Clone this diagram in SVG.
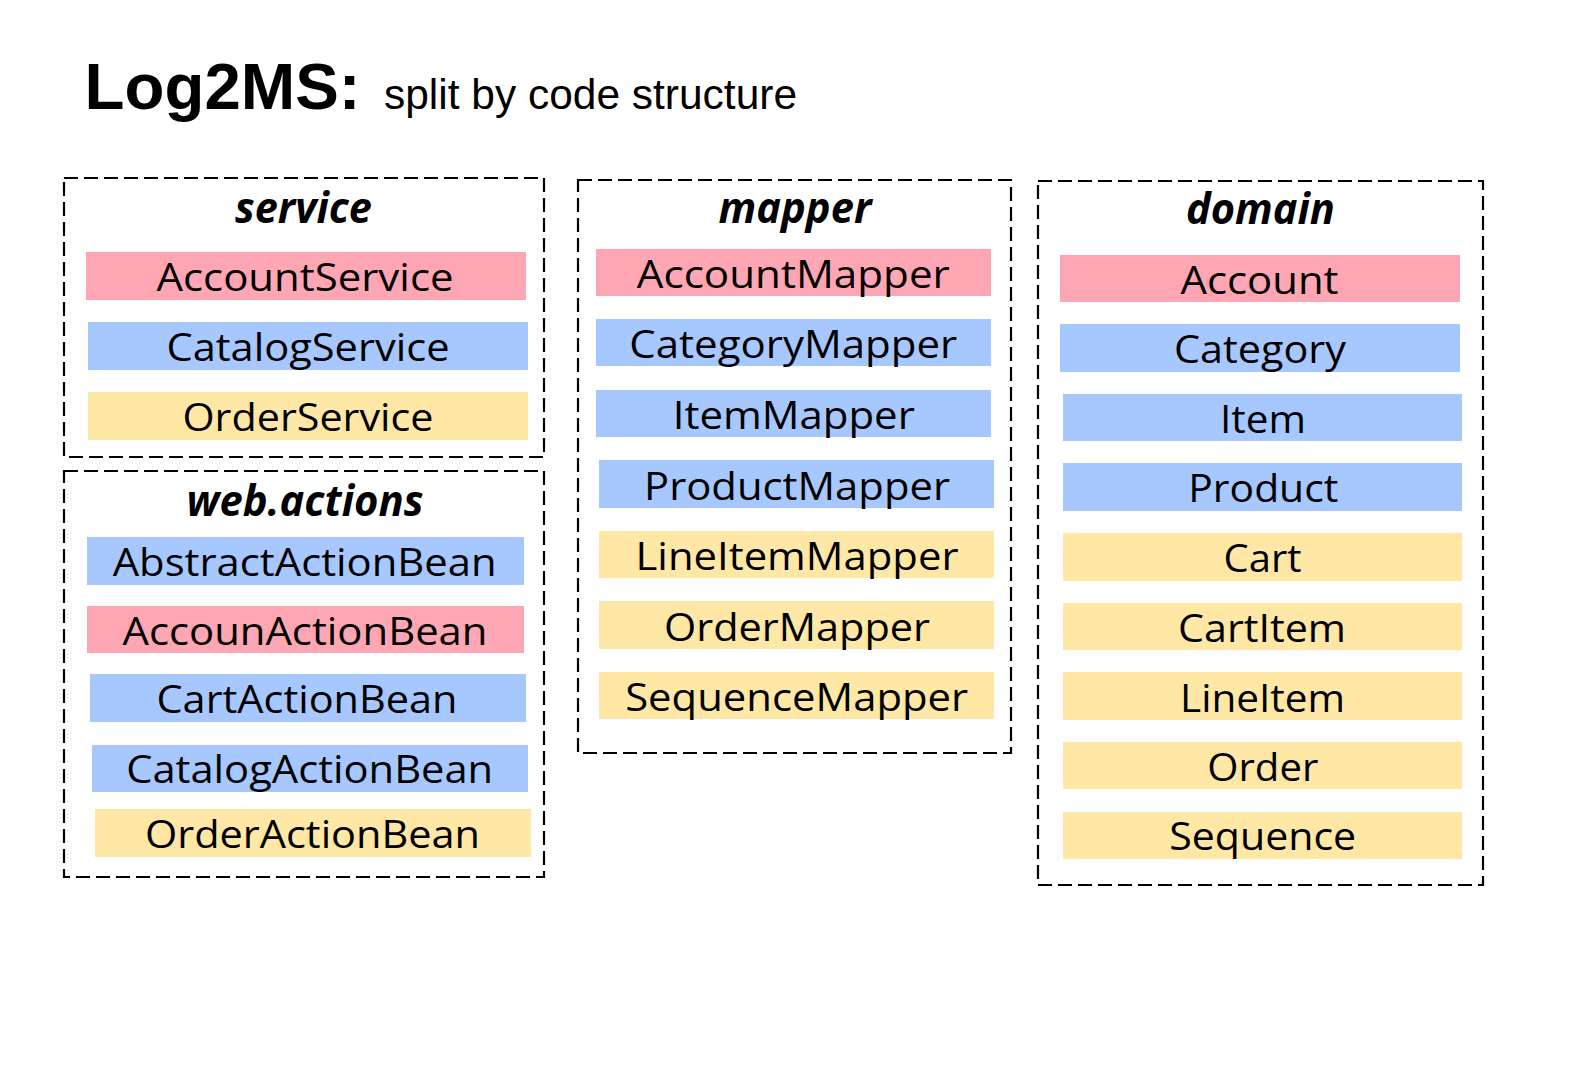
<svg xmlns="http://www.w3.org/2000/svg" width="1580" height="1072" viewBox="0 0 1580 1072">
<style>
.bg{fill:#ffffff}
.box{fill:none;stroke:#000;stroke-width:2.2;stroke-dasharray:14 6}
.pink{fill:#FFA6B4}
.blue{fill:#A6C8FF}
.yellow{fill:#FFE8A5}
.item{font-family:"Open Sans","Noto Sans",sans-serif;font-size:39px;fill:#000;text-anchor:middle}
.title{font-family:"Open Sans","Noto Sans",sans-serif;font-size:43px;font-weight:bold;font-style:italic;fill:#000;text-anchor:middle}
.h1{font-family:"Liberation Sans",Arial,sans-serif;font-size:64px;font-weight:bold;fill:#000}
.h2{font-family:"Liberation Sans",Arial,sans-serif;font-size:42px;fill:#000}
</style>
<rect class="bg" x="0" y="0" width="1580" height="1072"/>
<g id="heading">
<text class="h1" x="84.6" y="109" textLength="276" lengthAdjust="spacingAndGlyphs">Log2MS:</text>
<text class="h2" x="384" y="109" textLength="413" lengthAdjust="spacingAndGlyphs">split by code structure</text>
</g>
<g id="service">
<rect class="box" x="64" y="178" width="480" height="279"/>
<text class="title" x="303.5" y="223" textLength="137" lengthAdjust="spacingAndGlyphs">service</text>
<g id="AccountService"><rect class="pink" x="86" y="252" width="440" height="48"/><text class="item" x="305" y="290.7" textLength="297" lengthAdjust="spacingAndGlyphs">AccountService</text></g>
<g id="CatalogService"><rect class="blue" x="88" y="322" width="440" height="48"/><text class="item" x="308" y="360.7" textLength="283" lengthAdjust="spacingAndGlyphs">CatalogService</text></g>
<g id="OrderService"><rect class="yellow" x="88" y="392" width="440" height="48"/><text class="item" x="308" y="430.7" textLength="251" lengthAdjust="spacingAndGlyphs">OrderService</text></g>
</g>
<g id="web.actions">
<rect class="box" x="64" y="471" width="480" height="406"/>
<text class="title" x="305" y="516" textLength="237" lengthAdjust="spacingAndGlyphs">web.actions</text>
<g id="AbstractActionBean"><rect class="blue" x="87" y="537" width="437" height="48"/><text class="item" x="304.7" y="576" textLength="384" lengthAdjust="spacingAndGlyphs">AbstractActionBean</text></g>
<g id="AccounActionBean"><rect class="pink" x="87" y="606" width="437" height="47"/><text class="item" x="305" y="645" textLength="365" lengthAdjust="spacingAndGlyphs">AccounActionBean</text></g>
<g id="CartActionBean"><rect class="blue" x="90" y="674" width="436" height="48"/><text class="item" x="307" y="713.3" textLength="301" lengthAdjust="spacingAndGlyphs">CartActionBean</text></g>
<g id="CatalogActionBean"><rect class="blue" x="92" y="745" width="436" height="47"/><text class="item" x="309.7" y="783.3" textLength="367" lengthAdjust="spacingAndGlyphs">CatalogActionBean</text></g>
<g id="OrderActionBean"><rect class="yellow" x="95" y="809" width="436" height="48"/><text class="item" x="312.5" y="848.3" textLength="335" lengthAdjust="spacingAndGlyphs">OrderActionBean</text></g>
</g>
<g id="mapper">
<rect class="box" x="578" y="180" width="433" height="573"/>
<text class="title" x="795" y="222.6" textLength="153" lengthAdjust="spacingAndGlyphs">mapper</text>
<g id="AccountMapper"><rect class="pink" x="596" y="249" width="395" height="47"/><text class="item" x="793.3" y="288.3" textLength="313" lengthAdjust="spacingAndGlyphs">AccountMapper</text></g>
<g id="CategoryMapper"><rect class="blue" x="596" y="319" width="395" height="47"/><text class="item" x="793.3" y="357.8" textLength="328" lengthAdjust="spacingAndGlyphs">CategoryMapper</text></g>
<g id="ItemMapper"><rect class="blue" x="596" y="390" width="395" height="47"/><text class="item" x="793.8" y="428.5" textLength="242" lengthAdjust="spacingAndGlyphs">ItemMapper</text></g>
<g id="ProductMapper"><rect class="blue" x="599" y="460" width="395" height="48"/><text class="item" x="797" y="499.5" textLength="306" lengthAdjust="spacingAndGlyphs">ProductMapper</text></g>
<g id="LineItemMapper"><rect class="yellow" x="599" y="531" width="395" height="47"/><text class="item" x="797" y="570" textLength="323" lengthAdjust="spacingAndGlyphs">LineItemMapper</text></g>
<g id="OrderMapper"><rect class="yellow" x="599" y="601" width="395" height="48"/><text class="item" x="797" y="640.7" textLength="266" lengthAdjust="spacingAndGlyphs">OrderMapper</text></g>
<g id="SequenceMapper"><rect class="yellow" x="599" y="672" width="395" height="47"/><text class="item" x="796.7" y="711" textLength="343" lengthAdjust="spacingAndGlyphs">SequenceMapper</text></g>
</g>
<g id="domain">
<rect class="box" x="1038" y="181" width="445" height="704"/>
<text class="title" x="1260.5" y="224.3" textLength="149" lengthAdjust="spacingAndGlyphs">domain</text>
<g id="Account"><rect class="pink" x="1060" y="255" width="400" height="47"/><text class="item" x="1259.5" y="294.3" textLength="158" lengthAdjust="spacingAndGlyphs">Account</text></g>
<g id="Category"><rect class="blue" x="1060" y="324" width="400" height="48"/><text class="item" x="1260" y="362.7" textLength="172" lengthAdjust="spacingAndGlyphs">Category</text></g>
<g id="Item"><rect class="blue" x="1063" y="394" width="399" height="47"/><text class="item" x="1263" y="433.3" textLength="86" lengthAdjust="spacingAndGlyphs">Item</text></g>
<g id="Product"><rect class="blue" x="1063" y="463" width="399" height="48"/><text class="item" x="1263.3" y="502.3" textLength="150" lengthAdjust="spacingAndGlyphs">Product</text></g>
<g id="Cart"><rect class="yellow" x="1063" y="533" width="399" height="48"/><text class="item" x="1262.5" y="572.3" textLength="78" lengthAdjust="spacingAndGlyphs">Cart</text></g>
<g id="CartItem"><rect class="yellow" x="1063" y="603" width="399" height="47"/><text class="item" x="1262" y="642.3" textLength="168" lengthAdjust="spacingAndGlyphs">CartItem</text></g>
<g id="LineItem"><rect class="yellow" x="1063" y="672" width="399" height="48"/><text class="item" x="1262.5" y="711.7" textLength="165" lengthAdjust="spacingAndGlyphs">LineItem</text></g>
<g id="Order"><rect class="yellow" x="1063" y="742" width="399" height="47"/><text class="item" x="1262.8" y="780.7" textLength="111" lengthAdjust="spacingAndGlyphs">Order</text></g>
<g id="Sequence"><rect class="yellow" x="1063" y="812" width="399" height="47"/><text class="item" x="1262.7" y="850" textLength="187" lengthAdjust="spacingAndGlyphs">Sequence</text></g>
</g>
<g id="connectors"/>
</svg>
